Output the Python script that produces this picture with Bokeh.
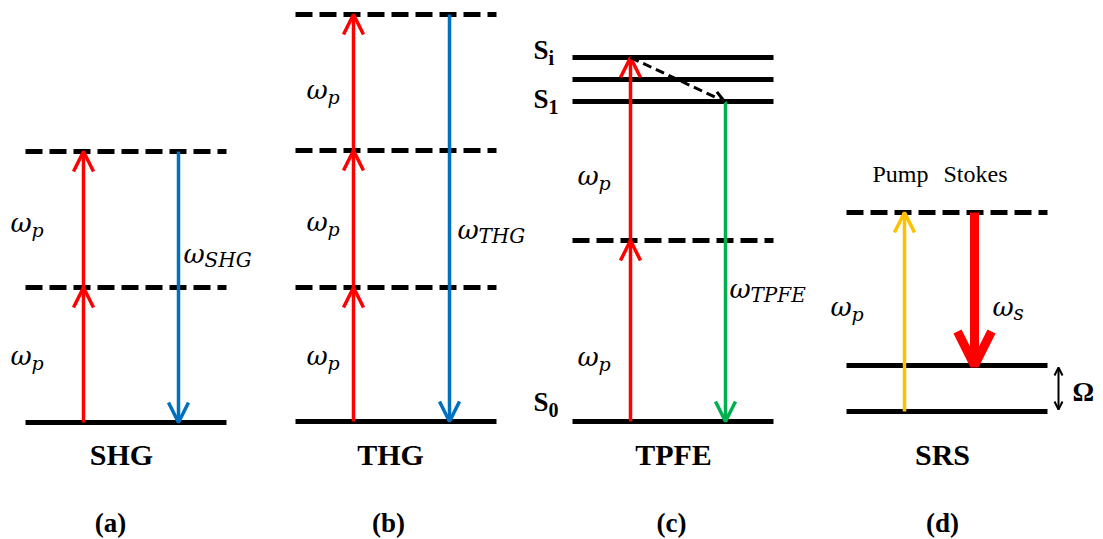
from bokeh.plotting import figure
from bokeh.models import Range1d, Arrow, OpenHead, ColumnDataSource
from bokeh.core.properties import value
from bokeh.embed import file_html
from bokeh.resources import INLINE

# ---------------------------------------------------------------
# Energy-level data for the four processes (vertical positions in
# drawing units, measured downward from the top edge).
# ---------------------------------------------------------------
SHG_SPAN = (25, 226)
SHG_LEVELS = [422, 287, 151]
SHG_STYLES = ["solid", "dashed", "dashed"]

THG_SPAN = (295, 496)
THG_LEVELS = [421, 287, 150, 14]
THG_STYLES = ["solid", "dashed", "dashed", "dashed"]

TPFE_SPAN = (572, 773)
TPFE_LEVELS = [421, 240, 101, 79, 57]
TPFE_STYLES = ["solid", "dashed", "solid", "solid", "solid"]

SRS_SPAN = (846, 1047)
SRS_LEVELS = [411, 365, 212]
SRS_STYLES = ["solid", "solid", "dashed"]

# transitions: x position, start level, end level
SHG_PUMP_X = [83, 83]
SHG_PUMP_FROM = [422, 287]
SHG_PUMP_TO = [287, 151]
SHG_SIG_X = [178]
SHG_SIG_FROM = [151]
SHG_SIG_TO = [422]

THG_PUMP_X = [353, 353, 353]
THG_PUMP_FROM = [421, 287, 150]
THG_PUMP_TO = [287, 150, 14]
THG_SIG_X = [449]
THG_SIG_FROM = [14]
THG_SIG_TO = [421]

TPFE_PUMP_X = [630, 630]
TPFE_PUMP_FROM = [421, 240]
TPFE_PUMP_TO = [240, 57]
TPFE_RELAX_X = [630, 724]
TPFE_RELAX_Y = [57, 101]
TPFE_EMIT_X = [725]
TPFE_EMIT_FROM = [101]
TPFE_EMIT_TO = [421]

SRS_PUMP_X = [904]
SRS_PUMP_FROM = [411]
SRS_PUMP_TO = [212]
SRS_STOKES_X = [974]
SRS_STOKES_FROM = [212]
SRS_STOKES_TO = [365]
SRS_SHIFT_X = [1058]
SRS_SHIFT_FROM = [367]
SRS_SHIFT_TO = [409]

# labels (left edge, vertical centre)
OMEGA_X = [10, 10, 306, 306, 306, 577, 577, 830]
OMEGA_Y = [222, 355, 89, 221, 355, 175, 356, 306]
SIG_LABEL_X = [183, 457, 729, 992]
SIG_LABEL_Y = [253, 229, 288, 306]
SIG_LABEL_SUB = ["SHG", "THG", "TPFE", "s"]

STATE_X = [533, 533, 533]
STATE_Y = [49, 98, 401]
STATE_SUB = ["i", "1", "0"]

TITLES = ["SHG", "THG", "TPFE", "SRS"]
TITLE_X = [121, 390, 673, 942]
PANEL_TAGS = ["(a)", "(b)", "(c)", "(d)"]
TAG_X = [110, 388, 671, 942]

RED = "#FF0000"
BLUE = "#0070C0"
GREEN = "#00B050"
YELLOW = "#FFC000"

p = figure(width=1103, height=539, x_range=Range1d(0, 1103), y_range=Range1d(539, 0),
           output_backend="svg", toolbar_location=None, min_border=0)
p.axis.visible = False
p.grid.visible = False
p.outline_line_color = None
p.background_fill_color = "white"
p.border_fill_color = "white"


def draw_levels(span, levels, styles):
    for y, st in zip(levels, styles):
        p.segment(x0=[span[0]], y0=[y], x1=[span[1]], y1=[y], line_color="black",
                  line_width=5, line_dash="solid" if st == "solid" else "17 7",
                  line_cap="butt")


for span, lv, st in [(SHG_SPAN, SHG_LEVELS, SHG_STYLES), (THG_SPAN, THG_LEVELS, THG_STYLES),
                     (TPFE_SPAN, TPFE_LEVELS, TPFE_STYLES), (SRS_SPAN, SRS_LEVELS, SRS_STYLES)]:
    draw_levels(span, lv, st)


def draw_arrows(xs, y0s, y1s, color, width=3.5, head=20, dash="solid"):
    src = ColumnDataSource(dict(x=xs, y0=y0s, y1=y1s))
    p.add_layout(Arrow(x_start="x", y_start="y0", x_end="x", y_end="y1", source=src,
                       line_color=color, line_width=width, line_dash=dash,
                       end=OpenHead(size=head, line_color=color, line_width=width)))


draw_arrows(SHG_PUMP_X, SHG_PUMP_FROM, SHG_PUMP_TO, RED)
draw_arrows(SHG_SIG_X, SHG_SIG_FROM, SHG_SIG_TO, BLUE)
draw_arrows(THG_PUMP_X, THG_PUMP_FROM, THG_PUMP_TO, RED)
draw_arrows(THG_SIG_X, THG_SIG_FROM, THG_SIG_TO, BLUE)
draw_arrows(TPFE_PUMP_X, TPFE_PUMP_FROM, TPFE_PUMP_TO, RED)
draw_arrows(TPFE_EMIT_X, TPFE_EMIT_FROM, TPFE_EMIT_TO, GREEN)
draw_arrows(SRS_PUMP_X, SRS_PUMP_FROM, SRS_PUMP_TO, YELLOW)
draw_arrows(SRS_STOKES_X, SRS_STOKES_FROM, SRS_STOKES_TO, RED, width=9, head=34)

# internal conversion S_i -> S_1
relax = ColumnDataSource(dict(x0=[TPFE_RELAX_X[0]], y0=[TPFE_RELAX_Y[0]],
                              x1=[TPFE_RELAX_X[1]], y1=[TPFE_RELAX_Y[1]]))
p.add_layout(Arrow(x_start="x0", y_start="y0", x_end="x1", y_end="y1", source=relax,
                   line_color="black", line_width=3, line_dash="9 5",
                   end=OpenHead(size=11, line_color="black", line_width=3)))

# Raman shift marker
shift = ColumnDataSource(dict(x=SRS_SHIFT_X, y0=SRS_SHIFT_FROM, y1=SRS_SHIFT_TO))
p.add_layout(Arrow(x_start="x", y_start="y0", x_end="x", y_end="y1", source=shift,
                   line_color="black", line_width=2,
                   start=OpenHead(size=8, line_color="black", line_width=2),
                   end=OpenHead(size=8, line_color="black", line_width=2)))

MATH = value("'DejaVu Serif'")
SERIF = value("'Liberation Serif'")

# omega_p labels
p.text(x=OMEGA_X, y=OMEGA_Y, text=["ω"] * len(OMEGA_X), text_font=MATH,
       text_font_style="italic", text_font_size="26px", text_baseline="middle")
p.text(x=[x + 21 for x in OMEGA_X], y=[y + 7 for y in OMEGA_Y], text=["p"] * len(OMEGA_X),
       text_font=MATH, text_font_style="italic", text_font_size="19px",
       text_baseline="middle")

# signal labels
p.text(x=SIG_LABEL_X, y=SIG_LABEL_Y, text=["ω"] * len(SIG_LABEL_X), text_font=MATH,
       text_font_style="italic", text_font_size="26px", text_baseline="middle")
p.text(x=[x + 21 for x in SIG_LABEL_X], y=[y + 6 for y in SIG_LABEL_Y], text=SIG_LABEL_SUB,
       text_font=MATH, text_font_style="italic", text_font_size="20px",
       text_baseline="middle")

# electronic state labels
p.text(x=STATE_X, y=STATE_Y, text=["S"] * 3, text_font=SERIF, text_font_style="bold",
       text_font_size="27px", text_baseline="middle")
p.text(x=[x + 15 for x in STATE_X], y=[y + 8 for y in STATE_Y], text=STATE_SUB,
       text_font=SERIF, text_font_style="bold", text_font_size="20px",
       text_baseline="middle")

# Raman shift and beam names
p.text(x=[1072], y=[391], text=["Ω"], text_font=SERIF, text_font_style="bold",
       text_font_size="27px", text_baseline="middle")
p.text(x=[872, 943], y=[173, 173], text=["Pump", "Stokes"], text_font=SERIF,
       text_font_size="24px", text_baseline="middle")

# process names and panel tags
p.text(x=TITLE_X, y=[454] * 4, text=TITLES, text_font=SERIF, text_font_style="bold",
       text_font_size="30px", text_align="center", text_baseline="middle")
p.text(x=TAG_X, y=[522] * 4, text=PANEL_TAGS, text_font=SERIF,
       text_font_style="bold", text_font_size="27px", text_align="center",
       text_baseline="middle")

open("out.html", "w").write(file_html(p, INLINE))
